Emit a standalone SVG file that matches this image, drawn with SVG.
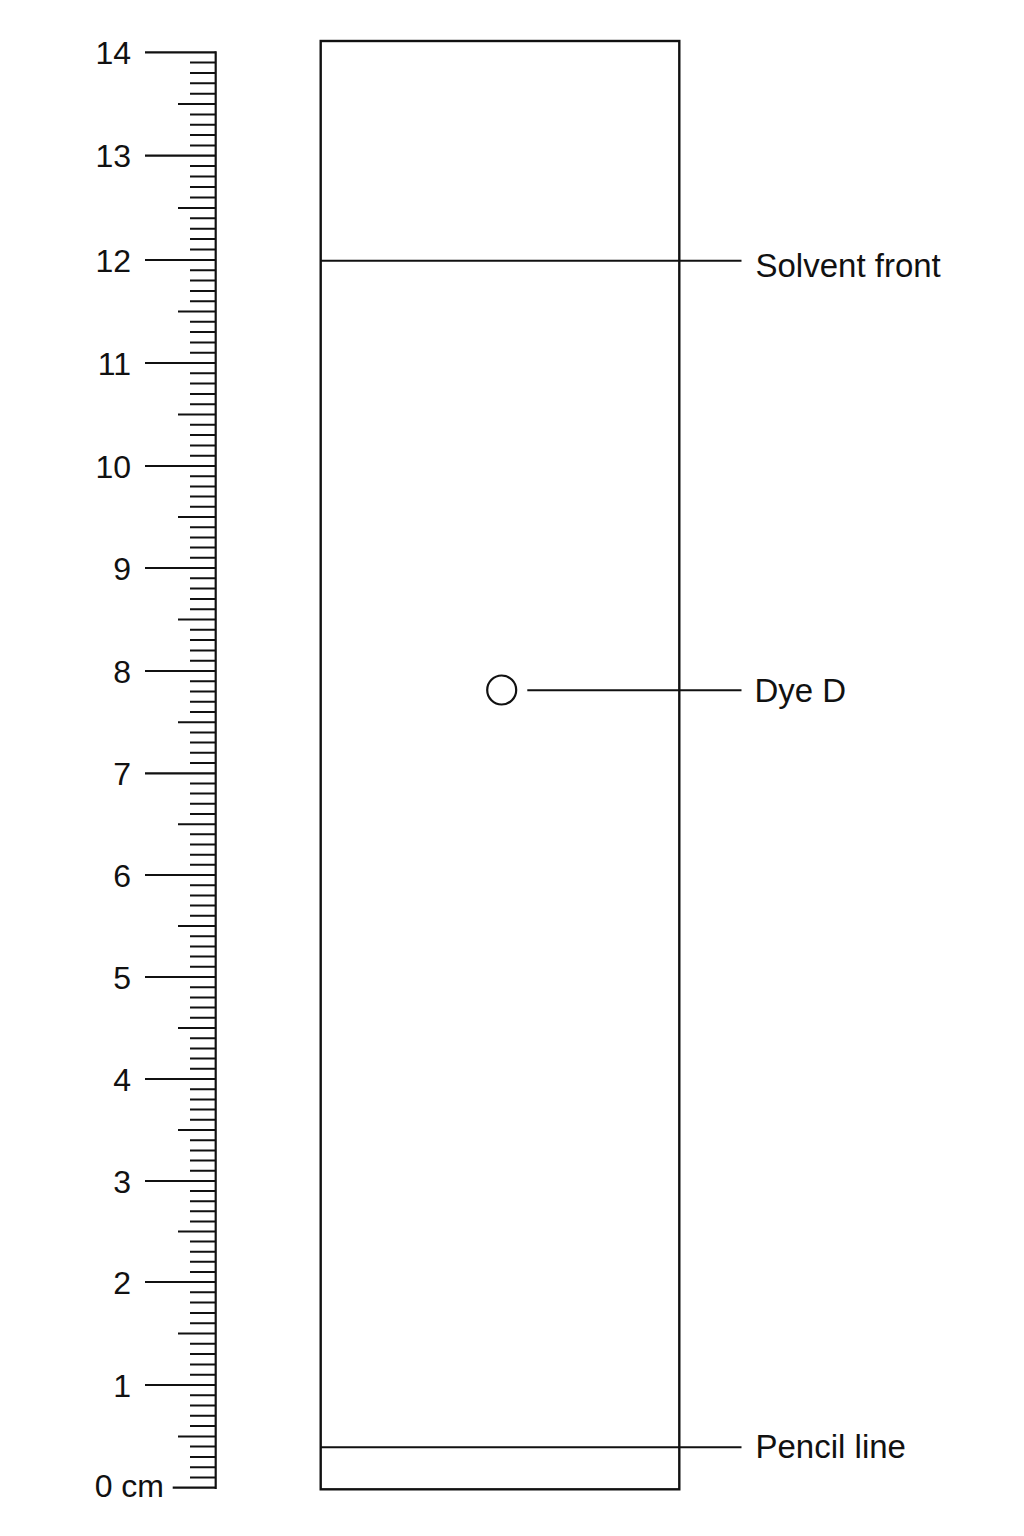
<svg xmlns="http://www.w3.org/2000/svg" width="1024" height="1536" viewBox="0 0 1024 1536">
<style>
.ln{stroke:#111;fill:none;stroke-linecap:butt}
.num{font-family:"Liberation Sans",Arial,sans-serif;font-size:32px;fill:#111;text-anchor:end}
.lab{font-family:"Liberation Sans",Arial,sans-serif;font-size:33px;fill:#111}
</style>
<rect width="1024" height="1536" fill="#fff"/>
<g id="ruler">
<path class="ln" stroke-width="2.2" d="M215.7 51.3V1489"/>
<path class="ln" stroke-width="2.2" d="M145 52.3H215.7M145 155.7H215.7M145 260H215.7M145 363H215.7M145 466H215.7M145 568H215.7M145 671H215.7M145 773.3H215.7M145 875H215.7M145 977H215.7M145 1079H215.7M145 1181H215.7M145 1282H215.7M145 1385H215.7M172.7 1487.7H215.7"/>
<path class="ln" stroke-width="2" d="M178 1436.4H215.7M178 1333.5H215.7M178 1231.5H215.7M178 1130H215.7M178 1028H215.7M178 926H215.7M178 824.2H215.7M178 722.2H215.7M178 619.5H215.7M178 517H215.7M178 414.5H215.7M178 311.5H215.7M178 207.9H215.7M178 104H215.7"/>
<path class="ln" stroke-width="2" d="M190 1477.4H215.7M190 1467.2H215.7M190 1456.9H215.7M190 1446.6H215.7M190 1426.1H215.7M190 1415.8H215.7M190 1405.5H215.7M190 1395.3H215.7
M190 1374.7H215.7M190 1364.4H215.7M190 1354.1H215.7M190 1343.8H215.7M190 1323.2H215.7M190 1312.9H215.7M190 1302.6H215.7M190 1292.3H215.7
M190 1271.9H215.7M190 1261.8H215.7M190 1251.7H215.7M190 1241.6H215.7M190 1221.4H215.7M190 1211.3H215.7M190 1201.2H215.7M190 1191.1H215.7
M190 1170.8H215.7M190 1160.6H215.7M190 1150.4H215.7M190 1140.2H215.7M190 1119.8H215.7M190 1109.6H215.7M190 1099.4H215.7M190 1089.2H215.7
M190 1068.8H215.7M190 1058.6H215.7M190 1048.4H215.7M190 1038.2H215.7M190 1017.8H215.7M190 1007.6H215.7M190 997.4H215.7M190 987.2H215.7
M190 966.8H215.7M190 956.6H215.7M190 946.4H215.7M190 936.2H215.7M190 915.8H215.7M190 905.6H215.7M190 895.4H215.7M190 885.2H215.7
M190 864.8H215.7M190 854.7H215.7M190 844.5H215.7M190 834.3H215.7M190 814H215.7M190 803.8H215.7M190 793.6H215.7M190 783.5H215.7
M190 763.1H215.7M190 752.8H215.7M190 742.6H215.7M190 732.4H215.7M190 711.9H215.7M190 701.7H215.7M190 691.5H215.7M190 681.2H215.7
M190 660.7H215.7M190 650.4H215.7M190 640.1H215.7M190 629.8H215.7M190 609.2H215.7M190 598.9H215.7M190 588.6H215.7M190 578.3H215.7
M190 557.8H215.7M190 547.6H215.7M190 537.4H215.7M190 527.2H215.7M190 506.8H215.7M190 496.6H215.7M190 486.4H215.7M190 476.2H215.7
M190 455.7H215.7M190 445.4H215.7M190 435.1H215.7M190 424.8H215.7M190 404.2H215.7M190 393.9H215.7M190 383.6H215.7M190 373.3H215.7
M190 352.7H215.7M190 342.4H215.7M190 332.1H215.7M190 321.8H215.7M190 301.2H215.7M190 290.9H215.7M190 280.6H215.7M190 270.3H215.7
M190 249.6H215.7M190 239.1H215.7M190 228.7H215.7M190 218.3H215.7M190 197.4H215.7M190 187H215.7M190 176.6H215.7M190 166.1H215.7
M190 145.4H215.7M190 135H215.7M190 124.7H215.7M190 114.4H215.7M190 93.7H215.7M190 83.3H215.7M190 73H215.7M190 62.6H215.7"/>
<g class="num">
<text x="131" y="63.8">14</text>
<text x="131" y="167.2">13</text>
<text x="131" y="271.5">12</text>
<text x="131" y="374.5">11</text>
<text x="131" y="477.5">10</text>
<text x="131" y="579.5">9</text>
<text x="131" y="682.5">8</text>
<text x="131" y="784.8">7</text>
<text x="131" y="886.5">6</text>
<text x="131" y="988.5">5</text>
<text x="131" y="1090.5">4</text>
<text x="131" y="1192.5">3</text>
<text x="131" y="1293.5">2</text>
<text x="131" y="1396.5">1</text>
<text x="164" y="1496.5">0 cm</text>
</g>
</g>
<g id="paper">
<rect class="ln" stroke-width="2.4" x="320.7" y="41" width="358.6" height="1448.3"/>
</g>
<g id="dye-d">
<circle class="ln" stroke-width="2.2" cx="501.7" cy="690" r="14.5"/>
</g>
<g id="connectors">
<path class="ln" stroke-width="2" d="M320.7 260.7H741.5"/>
<path class="ln" stroke-width="2" d="M527.3 690.3H741.5"/>
<path class="ln" stroke-width="2" d="M320.7 1447.3H741.5"/>
</g>
<g id="labels">
<text class="lab" x="755.5" y="276.7">Solvent front</text>
<text class="lab" x="754.5" y="702.3">Dye D</text>
<text class="lab" x="755.5" y="1458.3">Pencil line</text>
</g>
</svg>
